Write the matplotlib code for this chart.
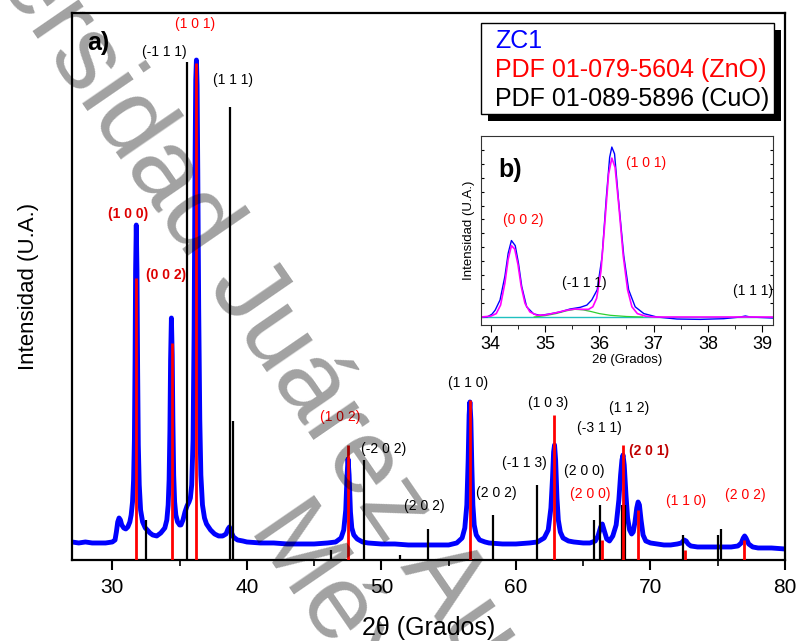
import matplotlib
matplotlib.use("Agg")
from matplotlib import pyplot as plt
from matplotlib.patches import Rectangle
from matplotlib.ticker import MultipleLocator

plt.rcParams['font.family'] = ['Liberation Sans', 'DejaVu Sans']

# Patron DRX de la muestra ZC1 (intensidad relativa)
dos_theta = [27.0, 27.5, 28.0, 28.5, 29.0, 29.5, 30.0, 30.2, 30.3, 30.4, 30.5, 30.6, 30.7, 30.85, 31.0, 31.15, 31.3,
             31.4, 31.5, 31.58, 31.64, 31.69, 31.73, 31.78, 31.83, 31.88, 31.93, 32.0, 32.1, 32.25, 32.45, 32.6, 32.8, 33.0, 33.3, 33.6, 33.9,
             34.05, 34.15, 34.22, 34.28, 34.33, 34.39, 34.45, 34.5, 34.56, 34.63, 34.72, 34.85, 35.0, 35.1, 35.25, 35.4, 35.55,
             35.7, 35.8, 35.9, 36.0, 36.08, 36.15, 36.2, 36.25, 36.3, 36.35, 36.42, 36.5, 36.58, 36.7, 36.85, 37.0,
             37.3, 37.6, 37.9, 38.2, 38.45, 38.6, 38.7, 38.8, 39.0, 39.3, 39.7, 40.0, 41.0, 42.0, 43.0, 44.0, 45.0, 46.0, 46.6,
             47.0, 47.2, 47.35, 47.45, 47.52, 47.6, 47.7, 47.8, 47.95, 48.2, 48.6, 49.0, 50.0, 51.0, 52.0, 53.0, 54.0, 55.0, 55.6,
             56.0, 56.2, 56.35, 56.45, 56.52, 56.58, 56.65, 56.72, 56.8, 56.9, 57.05, 57.3, 57.7, 58.0, 59.0, 60.0, 61.0, 61.6, 62.1,
             62.4, 62.6, 62.72, 62.8, 62.87, 62.95, 63.05, 63.15, 63.3, 63.5, 63.9, 64.3, 65.0, 65.5, 65.9,
             66.1, 66.3, 66.42, 66.55, 66.75, 66.95, 67.2, 67.45, 67.65, 67.78, 67.88, 67.96, 68.05, 68.18, 68.3, 68.45, 68.6,
             68.72, 68.85, 68.98, 69.08, 69.18, 69.3, 69.45, 69.65,
             70.0, 70.5, 71.0, 71.5, 72.0, 72.3, 72.5, 72.65, 72.8, 73.0, 73.5, 74.0, 75.0, 76.0, 76.5, 76.75, 76.9, 77.0, 77.1,
             77.3, 77.6, 78.0, 79.0, 80.0]
intensidad = [18, 17, 18, 17, 17, 17, 18, 20, 28, 38, 42, 40, 35, 32, 31, 33, 38,
              45, 58, 80, 120, 200, 290, 335, 290, 190, 115, 75, 50, 38, 32, 30, 27, 25, 24, 27, 32,
              40, 55, 80, 130, 200, 242, 205, 140, 85, 58, 45, 38, 35, 35, 40, 48, 54,
              58, 62, 75, 120, 230, 400, 480, 500, 475, 390, 250, 140, 85, 55, 42, 36,
              30, 26, 24, 24, 26, 31, 33, 29, 23, 20, 19, 18, 17, 17, 16, 16, 16, 17, 18,
              22, 30, 50, 85, 101, 85, 48, 32, 25, 21, 18, 17, 16, 16, 15, 15, 15, 15, 17,
              22, 32, 55, 100, 145, 158, 140, 95, 55, 35, 25, 20, 18, 17, 16, 16, 17, 18, 22,
              30, 52, 82, 108, 115, 100, 62, 40, 28, 22, 19, 18, 17, 17, 19,
              24, 33, 36, 30, 21, 19, 24, 35, 60, 85, 100, 105, 95, 65, 42, 30, 26,
              28, 38, 52, 58, 55, 40, 25, 19,
              17, 16, 15, 15, 16, 17, 20, 19, 16, 14, 13, 13, 13, 13, 14, 17, 22, 24, 22,
              16, 13, 12, 12, 11]

# Tarjetas de referencia
zno_pos = [31.77, 34.42, 36.25, 47.54, 56.60, 62.86, 66.38, 67.96, 69.10, 72.56, 76.95]
zno_int = [282, 217, 497, 115, 160, 145, 20, 115, 50, 10, 20]
cuo_pos = [32.51, 35.54, 38.71, 38.96, 46.27, 48.72, 51.37, 53.49, 58.27, 61.53, 65.82, 66.22, 67.90, 68.11,
           72.40, 75.03, 75.24]
cuo_int = [40, 498, 453, 139, 10, 100, 5, 31, 45, 75, 40, 55, 55, 55, 25, 25, 31]

# Indices de Miller (texto, x, y, color, negrita)
etiquetas = [
    ("(1 0 1)", 36.13, 536, "red", False),
    ("(-1 1 1)", 33.89, 508, "black", False),
    ("(1 1 1)", 38.96, 480, "black", False),
    ("(1 0 0)", 31.14, 346, "#dd0000", True),
    ("(0 0 2)", 33.97, 285, "#dd0000", True),
    ("(1 0 2)", 46.92, 143, "red", False),
    ("(-2 0 2)", 50.2, 111, "black", False),
    ("(2 0 2)", 53.18, 54, "black", False),
    ("(1 1 0)", 56.46, 177, "black", False),
    ("(2 0 2)", 58.54, 67, "black", False),
    ("(-1 1 3)", 60.62, 97, "black", False),
    ("(1 0 3)", 62.41, 157, "black", False),
    ("(2 0 0)", 65.09, 89, "black", False),
    ("(2 0 0)", 65.54, 66, "red", False),
    ("(-3 1 1)", 66.21, 132, "black", False),
    ("(1 1 2)", 68.45, 152, "black", False),
    ("(2 0 1)", 69.86, 109, "#c00000", True),
    ("(1 1 0)", 72.61, 59, "red", False),
    ("(2 0 2)", 77.08, 65, "red", False),
]

# Ampliacion 34-39 grados: datos, ajuste, componente CuO y linea base
b_x = [33.82, 33.93, 34.02, 34.08, 34.17, 34.26, 34.32, 34.38, 34.45, 34.51, 34.57, 34.66, 34.79, 34.91, 35.09, 35.28,
       35.46, 35.65, 35.77, 35.86, 35.96, 36.05, 36.13, 36.19, 36.23, 36.28, 36.35, 36.45, 36.54, 36.66, 36.82, 37.06,
       37.43, 37.86, 38.29, 38.6, 38.69, 38.78, 39.2]
b_y = [0.0, 0.0, 0.016, 0.04, 0.1, 0.24, 0.375, 0.45, 0.42, 0.316, 0.18, 0.06, 0.018, 0.01, 0.018, 0.03,
       0.047, 0.057, 0.07, 0.1, 0.16, 0.355, 0.71, 0.94, 1.0, 0.96, 0.7, 0.36, 0.16, 0.06, 0.02, 0.0,
       -0.012, -0.014, -0.01, 0.0, 0.006, 0.0, -0.006]
ajuste_x = [33.82, 34.0, 34.1, 34.18, 34.26, 34.32, 34.38, 34.44, 34.5, 34.56, 34.63, 34.72, 34.85, 35.0, 35.2, 35.4,
            35.55, 35.7, 35.8, 35.88, 35.95, 36.03, 36.1, 36.17, 36.23, 36.29, 36.36, 36.44, 36.52, 36.6, 36.7, 36.85,
            37.0, 39.2]
ajuste_y = [0.0, 0.005, 0.02, 0.07, 0.2, 0.34, 0.42, 0.4, 0.31, 0.18, 0.08, 0.03, 0.01, 0.012, 0.025, 0.04,
            0.047, 0.045, 0.045, 0.06, 0.11, 0.27, 0.55, 0.84, 0.935, 0.88, 0.65, 0.36, 0.16, 0.06, 0.02, 0.005,
            0.0, 0.0]
cuo_fit_x = [34.8, 35.0, 35.2, 35.4, 35.55, 35.7, 35.85, 36.0, 36.2, 36.5, 36.8]
cuo_fit_y = [0.0, 0.008, 0.02, 0.037, 0.045, 0.042, 0.032, 0.02, 0.01, 0.003, 0.0]
base_x = [33.82, 39.2]
base_y = [0.0, 0.0]

fig = plt.figure(figsize=(7.98, 6.41), dpi=100)
ax = fig.add_axes([0.0902, 0.1264, 0.8935, 0.8533])

ax.plot(dos_theta, intensidad, color='blue', lw=3.5, solid_joinstyle='round', zorder=2)
ax.vlines(cuo_pos, 0, cuo_int, color='black', lw=1.6, zorder=3)
ax.vlines(zno_pos, 0, zno_int, color='red', lw=2.0, zorder=4)

for texto, x, y, color, negrita in etiquetas:
    ax.text(x, y, texto, color=color, fontsize=10, ha='center', va='center',
            fontweight='bold' if negrita else 'normal', zorder=5)

ax.text(0.021, 0.945, "a)", transform=ax.transAxes, fontsize=18, fontweight='bold', va='center')

ax.set_xlim(27, 80)
ax.set_ylim(0, 547)
ax.set_yticks([])
ax.xaxis.set_major_locator(MultipleLocator(10))
ax.xaxis.set_minor_locator(MultipleLocator(5))
ax.tick_params(axis='x', which='major', direction='out', length=7, width=1.5, labelsize=15, pad=6)
ax.tick_params(axis='x', which='minor', direction='out', length=4, width=1.2)
for s in ax.spines.values():
    s.set_linewidth(1.6)
ax.set_xlabel("2θ (Grados)", fontsize=18, labelpad=14)
ax.set_ylabel("Intensidad (U.A.)", fontsize=16, labelpad=24)

# Leyenda con sombra
fig.add_artist(Rectangle((0.6115, 0.8110), 0.3672, 0.1420, transform=fig.transFigure,
                         facecolor='black', edgecolor='none', zorder=6))
fig.add_artist(Rectangle((0.6028, 0.8222), 0.3672, 0.1420, transform=fig.transFigure,
                         facecolor='white', edgecolor='black', lw=1, zorder=7))
leyenda = [("ZC1", "blue"), ("PDF 01-079-5604 (ZnO)", "red"), ("PDF 01-089-5896 (CuO)", "black")]
for i, (texto, color) in enumerate(leyenda):
    fig.text(0.6203, 0.936 - i * 0.0452, texto, color=color, fontsize=18, va='center', zorder=8)

# Recuadro b)
axb = fig.add_axes([0.6028, 0.4930, 0.3659, 0.2948])
axb.plot(base_x, base_y, color='#20c0c0', lw=1.0)
axb.plot(cuo_fit_x, cuo_fit_y, color='#30d030', lw=0.9)
axb.plot(b_x, b_y, color='blue', lw=1.0)
axb.plot(ajuste_x, ajuste_y, color='magenta', lw=1.2)
axb.set_xlim(33.82, 39.2)
axb.set_ylim(-0.047, 1.065)
axb.xaxis.set_major_locator(MultipleLocator(1))
axb.xaxis.set_minor_locator(MultipleLocator(0.5))
axb.yaxis.set_major_locator(MultipleLocator(0.082))
axb.tick_params(axis='x', which='major', direction='out', length=5, labelsize=13, pad=3)
axb.tick_params(axis='x', which='minor', direction='out', length=3)
axb.tick_params(axis='y', direction='in', length=2.5, left=True, right=True, labelleft=False)
for s in axb.spines.values():
    s.set_linewidth(0.8)
    s.set_color('#333333')
axb.set_xlabel("2θ (Grados)", fontsize=9.5, labelpad=1)
axb.set_ylabel("Intensidad (U.A.)", fontsize=9.5, labelpad=4)
axb.text(0.06, 0.82, "b)", transform=axb.transAxes, fontsize=18, fontweight='bold', va='center')
axb.text(34.59, 0.57, "(0 0 2)", color='red', fontsize=10, ha='center', va='center')
axb.text(36.86, 0.905, "(1 0 1)", color='red', fontsize=10, ha='center', va='center')
axb.text(35.73, 0.2, "(-1 1 1)", color='black', fontsize=10, ha='center', va='center')
axb.text(38.83, 0.153, "(1 1 1)", color='black', fontsize=10, ha='center', va='center')

# Marca de agua
fig.text(-0.1573, 1.3089, "Universidad Juárez Autónoma de Tabasco", fontsize=76, rotation=-55.5,
         rotation_mode='anchor', ha='left', va='baseline', color='black', alpha=0.37, zorder=5)
fig.text(0.3058, 0.1652, "México.", fontsize=76, rotation=-55.5,
         rotation_mode='anchor', ha='left', va='baseline', color='black', alpha=0.37, zorder=5)

fig.savefig("out.png", dpi=100)
